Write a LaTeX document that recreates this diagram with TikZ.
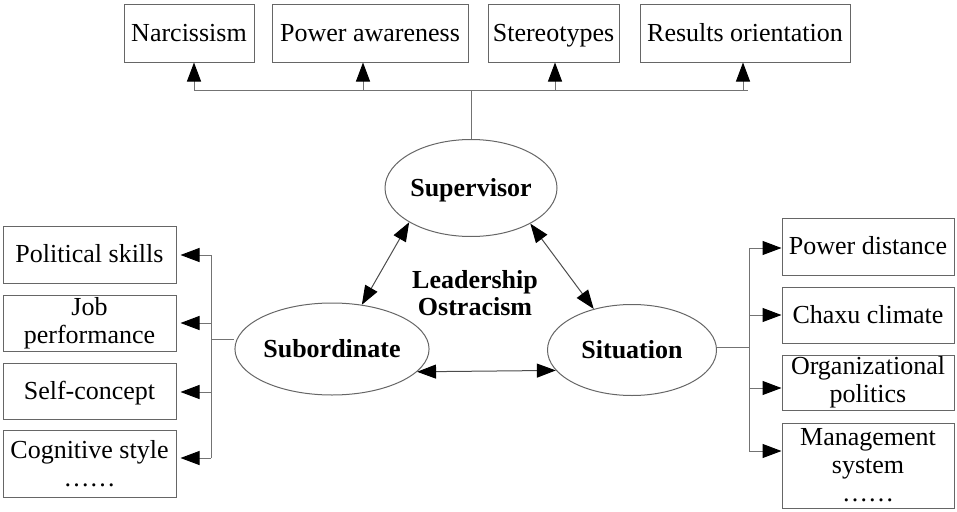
\documentclass[tikz,border=0pt]{standalone}
\usepackage{fontspec}
\setmainfont{Liberation Serif}
\usetikzlibrary{shapes.geometric,arrows.meta}
\begin{document}
\begin{tikzpicture}[x=1pt,y=-1pt,
  box/.style={draw=black!60, line width=1pt, inner sep=0pt, align=center,
    font=\fontsize{26}{28}\selectfont},
  one/.style={text height=17pt, text depth=1pt},
  oval/.style={ellipse, draw=black!60, line width=1pt, inner sep=0pt,
    text height=17pt, text depth=1pt,
    font=\bfseries\fontsize{26}{28}\selectfont},
  bus/.style={draw=black!55, line width=1pt},
  tip/.style={-{Triangle[length=19pt,width=14pt,color=black]}},
  arr/.style={bus, tip},
  dbl/.style={draw=black!70, line width=1pt,
    {Triangle[length=19pt,width=14pt,color=black]}-{Triangle[length=19pt,width=14pt,color=black]}}
]
\useasboundingbox (0,0) rectangle (957,511);

% top boxes
\node[box, one, minimum width=130pt, minimum height=57pt] (nar) at (189,33.5) {Narcissism};
\node[box, one, minimum width=196pt, minimum height=57pt] (pa) at (370,33.5) {Power awareness};
\node[box, one, minimum width=131pt, minimum height=57pt] (ste) at (553.5,33.5) {Stereotypes};
\node[box, one, minimum width=210pt, minimum height=57pt] (ro) at (745,33.5) {Results orientation};

% ellipses
\node[oval, minimum width=172pt, minimum height=97pt] (sup) at (471,188) {Supervisor};
\node[oval, minimum width=172pt, minimum height=92pt] (sub) at (332,349) {Subordinate};
\node[oval, minimum width=169pt, minimum height=91pt] (sit) at (632,350) {Situation};
\node[font=\bfseries\fontsize{26}{27}\selectfont, align=center, inner sep=0pt] (lo) at (475,293) {Leadership\\Ostracism};

% left boxes
\node[box, one, minimum width=173pt, minimum height=57pt] (ps) at (89.5,254.5) {Political skills};
\node[box, minimum width=173pt, minimum height=56pt] (jp) at (89.5,323) {Job\\performance};
\node[box, one, minimum width=173pt, minimum height=56pt] (sc) at (89.5,391) {Self-concept};
\node[box, minimum width=173pt, minimum height=67pt] (cs) at (89.5,463.5) {Cognitive style\\……};

% right boxes
\node[box, one, minimum width=172pt, minimum height=57pt] (pd) at (868,246.5) {Power distance};
\node[box, one, minimum width=172pt, minimum height=56pt] (cc) at (868,315) {Chaxu climate};
\node[box, minimum width=172pt, minimum height=55pt] (op) at (868,382.5) {Organizational\\politics};
\node[box, minimum width=172pt, minimum height=85pt] (ms) at (868,465.5) {Management\\system\\……};

% top bus
\coordinate (t1) at (194,90);
\coordinate (t2) at (363,90);
\coordinate (t3) at (555,90);
\coordinate (t4) at (743,90);
\coordinate (te) at (748,90);
\coordinate (tj) at (471,90);
\draw[bus] (t1) -- (te);
\draw[bus] (tj) -- (sup.north);
\draw[arr] (t1) -- (t1 |- nar.south);
\draw[arr] (t2) -- (t2 |- pa.south);
\draw[arr] (t3) -- (t3 |- ste.south);
\draw[arr] (t4) -- (t4 |- ro.south);

% left bus
\coordinate (l1) at (211,255);
\coordinate (l2) at (211,323);
\coordinate (l3) at (211,392);
\coordinate (l4) at (211,458);
\coordinate (lj) at (211,339);
\draw[bus] (l1) -- (l4);
\draw[bus] (lj) -- (lj -| sub.west);
\draw[arr, shorten >=4pt] (l1) -- (l1 -| ps.east);
\draw[arr, shorten >=4pt] (l2) -- (l2 -| jp.east);
\draw[arr, shorten >=4pt] (l3) -- (l3 -| sc.east);
\draw[arr, shorten >=4pt] (l4) -- (l4 -| cs.east);

% right bus
\coordinate (r1) at (749,248);
\coordinate (r2) at (749,315);
\coordinate (r3) at (749,388);
\coordinate (r4) at (749,451);
\coordinate (rj) at (749,347);
\draw[bus] (r1) -- (r4);
\draw[bus] (sit.east |- rj) -- (rj);
\draw[arr] (r1) -- (r1 -| pd.west);
\draw[arr] (r2) -- (r2 -| cc.west);
\draw[arr] (r3) -- (r3 -| op.west);
\draw[arr] (r4) -- (r4 -| ms.west);

% triangle arrows
\draw[dbl] (sup.209) -- (sub.56);
\draw[dbl] (sup.329) -- (sit.133);
\draw[dbl] (sub.-15) -- (sit.195);
\end{tikzpicture}
\end{document}
